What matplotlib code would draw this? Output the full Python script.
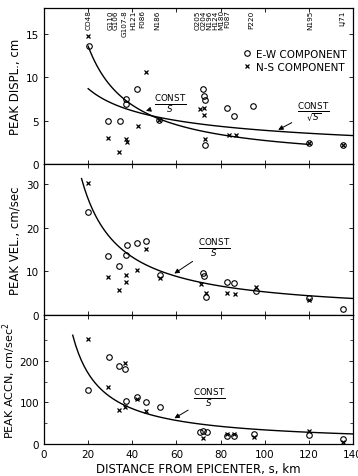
import numpy as np
import matplotlib
matplotlib.use("Agg")
import matplotlib.pyplot as plt
from matplotlib.ticker import MultipleLocator

plt.rcParams["font.family"] = "DejaVu Sans"

# station labels along the top
stations = ["CO48", "G110", "G106", "G107-8", "H121", "F086", "N186",
            "O205", "O204", "N196", "H124", "M180", "F087", "P220", "N195", "LJ71"]
station_s = [20, 30, 32.6, 36.3, 40.5, 44.5, 51.5,
             69.8, 72.4, 75, 77.6, 80.2, 82.8, 94, 120.5, 135]

# peak displacement, cm
disp_ew_s = [20.5, 29, 34.5, 37, 37, 42, 52, 72, 72.5, 73, 73, 83, 86, 94.5, 120, 135.5]
disp_ew = [13.6, 5.0, 5.0, 7.5, 6.9, 8.7, 5.1, 8.7, 7.9, 7.4, 2.2, 6.5, 5.6, 6.7, 2.4, 2.2]
disp_ns_s = [20, 29, 37, 37.5, 34, 42.5, 46, 70.5, 72.5, 72.5, 73, 84, 87, 52, 120, 135.5]
disp_ns = [14.8, 3.0, 2.9, 2.6, 1.4, 4.4, 10.6, 6.4, 6.5, 5.7, 2.9, 3.4, 3.4, 5.1, 2.4, 2.2]

# peak velocity, cm/sec
vel_ew_s = [20, 29, 34, 37.3, 37.5, 42, 46.4, 52.4, 72, 72.5, 73.6, 83, 86, 96, 120, 135.5]
vel_ew = [23.5, 13.4, 11.3, 13.8, 15.9, 16.5, 17.0, 9.2, 9.6, 9.0, 4.2, 7.6, 7.4, 5.4, 4.0, 1.4]
vel_ns_s = [20, 29, 34, 37.3, 37.3, 42, 46.4, 52.7, 71.3, 73.6, 83, 86.4, 96, 120]
vel_ns = [30.1, 8.8, 5.8, 9.2, 7.6, 10.2, 15.0, 8.5, 7.0, 5.1, 5.1, 4.7, 6.5, 3.5]

# peak acceleration, cm/sec^2
acc_ew_s = [19.7, 29.6, 33.8, 36.8, 37.3, 42, 46.4, 52.4, 70.5, 72, 74, 83, 86, 95, 120, 135.5]
acc_ew = [130, 208, 187, 180, 104, 114, 102, 90, 28, 31, 28, 20, 20, 24, 21, 12]
acc_ns_s = [20, 29, 36.5, 33.8, 36.8, 42, 46.4, 72, 83, 86, 95, 120, 135.5]
acc_ns = [253, 137, 195, 83, 90, 109, 79, 15, 24, 24, 17, 31, 6]

# fitted curve constants
disp_c1, disp_c2 = 272, 38.9
vel_c = 530
acc_c = 3400

fig = plt.figure(figsize=(3.58, 4.77), dpi=100)
gs = fig.add_gridspec(3, 1, height_ratios=[156, 151, 129], hspace=0,
                      left=0.123, right=0.986, bottom=0.067, top=0.981)
ax1 = fig.add_subplot(gs[0])
ax2 = fig.add_subplot(gs[1], sharex=ax1)
ax3 = fig.add_subplot(gs[2], sharex=ax1)

mk = dict(linestyle="none", color="black")
fs = 7.5
frac_fs = 9
arrow = dict(arrowstyle="-|>", color="black", lw=0.7, mutation_scale=7)

def style(ax):
    ax.set_xlim(0, 140)
    ax.xaxis.set_major_locator(MultipleLocator(20))
    ax.tick_params(direction="in", top=True, right=True, length=3, width=0.6,
                   labelsize=fs)
    for sp in ax.spines.values():
        sp.set_linewidth(0.9)

# top panel
ax1.plot(disp_ew_s, disp_ew, marker="o", mfc="none", ms=4, mew=0.8, label="E-W COMPONENT", **mk)
ax1.plot(disp_ns_s, disp_ns, marker="x", ms=3.5, mew=0.9, label="N-S COMPONENT", **mk)
s = np.linspace(20, 120, 100)
ax1.plot(s, disp_c1 / s, color="black", lw=1)
s = np.linspace(20, 140, 100)
ax1.plot(s, disp_c2 / np.sqrt(s), color="black", lw=1)
ax1.set_ylim(0, 18)
ax1.set_yticks([0, 5, 10, 15])
ax1.set_ylabel("PEAK DISPL., cm", fontsize=8.5, labelpad=3)
for name, x in zip(stations, station_s):
    ax1.text(x, 17.85, name, rotation=90, ha="center", va="top", fontsize=5.2,
             family=["Liberation Sans Narrow", "DejaVu Sans"])
ax1.legend(loc="upper right", bbox_to_anchor=(1.01, 0.80), frameon=False,
           fontsize=fs, handlelength=1, handletextpad=0.4, labelspacing=0.3)
ax1.annotate(r"$\frac{\mathrm{CONST}}{S}$", xy=(45, disp_c1 / 45), xytext=(57, 7.0),
             ha="center", va="center", fontsize=frac_fs, arrowprops=arrow)
ax1.annotate(r"$\frac{\mathrm{CONST}}{\sqrt{S}}$", xy=(105, disp_c2 / np.sqrt(105)),
             xytext=(122, 6.1), ha="center", va="center", fontsize=frac_fs, arrowprops=arrow)
style(ax1)
ax1.tick_params(labelbottom=False)

# middle panel
ax2.plot(vel_ew_s, vel_ew, marker="o", mfc="none", ms=4, mew=0.8, **mk)
ax2.plot(vel_ns_s, vel_ns, marker="x", ms=3.5, mew=0.9, **mk)
s = np.linspace(17, 140, 100)
ax2.plot(s, vel_c / s, color="black", lw=1)
ax2.set_ylim(0, 34.5)
ax2.set_yticks([0, 10, 20, 30])
ax2.set_ylabel("PEAK VEL., cm/sec", fontsize=8.5, labelpad=3)
ax2.annotate(r"$\frac{\mathrm{CONST}}{S}$", xy=(58, vel_c / 58), xytext=(77, 15.5),
             ha="center", va="center", fontsize=frac_fs, arrowprops=arrow)
style(ax2)
ax2.tick_params(labelbottom=False)

# bottom panel
ax3.plot(acc_ew_s, acc_ew, marker="o", mfc="none", ms=4, mew=0.8, **mk)
ax3.plot(acc_ns_s, acc_ns, marker="x", ms=3.5, mew=0.9, **mk)
s = np.linspace(13, 140, 100)
ax3.plot(s, acc_c / s, color="black", lw=1)
ax3.set_ylim(0, 310)
ax3.set_yticks([0, 100, 200])
ax3.yaxis.set_minor_locator(MultipleLocator(50))
ax3.tick_params(which="minor", direction="in", right=True, length=2, width=0.5)
ax3.set_ylabel("PEAK ACCN, cm/sec$^2$", fontsize=8, labelpad=1)
ax3.annotate(r"$\frac{\mathrm{CONST}}{S}$", xy=(58, acc_c / 58), xytext=(75, 112),
             ha="center", va="center", fontsize=frac_fs, arrowprops=arrow)
style(ax3)
ax3.set_xlabel("DISTANCE FROM EPICENTER, s, km", fontsize=8.5, labelpad=2)

fig.savefig("out.png", dpi=100)
